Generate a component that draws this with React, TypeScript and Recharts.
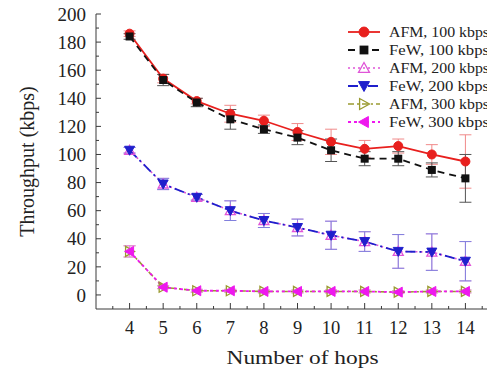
import React from 'react';
import { LineChart, Line, XAxis, YAxis, ErrorBar, Legend } from 'recharts';

const hops = [4, 5, 6, 7, 8, 9, 10, 11, 12, 13, 14];
const afm100 = [186, 154, 138, 129, 124, 116, 109, 104, 106, 100, 95];
const afm100Err = [2, 3, 2, 6, 4, 6, 9, 6, 5, 7, 19];
const few100 = [184, 153, 137, 125, 118, 112, 103, 97, 97, 89, 83];
const few100Err = [2, 4, 3, 7, 3, 5, 8, 5, 5, 5, 17];
const afm200 = [103, 79, 69.5, 60, 53, 48, 42.5, 38, 31, 30.5, 24];
const afm200Err = [2, 4, 2, 7, 5, 6, 10, 7, 12, 13, 14];
const few200 = [103, 79, 69.5, 60, 53, 48, 42.5, 38, 31, 30.5, 24];
const few200Err = [2, 4, 2, 7, 5, 6, 10, 7, 12, 13, 14];
const afm300 = [31, 5.5, 3, 3, 2.5, 2.5, 2.5, 2.5, 2, 2.5, 2.5];
const afm300Err = [4, 1, 1, 1, 1, 1, 1, 1, 1, 1, 1];
const few300 = [31, 5.5, 3, 3, 2.5, 2.5, 2.5, 2.5, 2, 2.5, 2.5];
const few300Err = [4, 1, 1, 1, 1, 1, 1, 1, 1, 1, 1];

const xTicks = [3.5, 4, 4.5, 5, 5.5, 6, 6.5, 7, 7.5, 8, 8.5, 9, 9.5, 10, 10.5, 11, 11.5, 12, 12.5, 13, 13.5, 14, 14.5];
const yTicks = [0, 10, 20, 30, 40, 50, 60, 70, 80, 90, 100, 110, 120, 130, 140, 150, 160, 170, 180, 190, 200];

const seriesNames = ['AFM, 100 kbps', 'FeW, 100 kbps', 'AFM, 200 kbps', 'FeW, 200 kbps', 'AFM, 300 kbps', 'FeW, 300 kbps'];

const data = hops.map((h, i) => ({
  hops: h,
  afm100: afm100[i], afm100Err: afm100Err[i],
  few100: few100[i], few100Err: few100Err[i],
  afm200: afm200[i], afm200Err: afm200Err[i],
  few200: few200[i], few200Err: few200Err[i],
  afm300: afm300[i], afm300Err: afm300Err[i],
  few300: few300[i], few300Err: few300Err[i],
}));

const FONT = '"Liberation Serif", "Times New Roman", serif';
const AXIS = '#3a3a3a';
const TXT = '#222';
const TOP_PAD = 6;

type Kind = 'circle' | 'square' | 'triUp' | 'triDown' | 'triRight' | 'triLeft';

const styles: { key: string; kind: Kind; color: string; err: string; dash?: string; width: number }[] = [
  { key: 'afm100', kind: 'circle', color: '#e8201e', err: '#f08a8a', width: 1.8 },
  { key: 'few100', kind: 'square', color: '#111111', err: '#555555', dash: '7 5', width: 1.8 },
  { key: 'afm200', kind: 'triUp', color: '#e055d8', err: '#e79be3', dash: '2 3', width: 1.6 },
  { key: 'few200', kind: 'triDown', color: '#1f1fcc', err: '#8080dd', dash: '10 4 2 4', width: 1.8 },
  { key: 'afm300', kind: 'triRight', color: '#9a9a30', err: '#b8b870', dash: '6 3 2 3', width: 1.6 },
  { key: 'few300', kind: 'triLeft', color: '#ee18ee', err: '#f080f0', dash: '3 3', width: 1.8 },
];

function marker(kind: Kind, color: string, cx: number, cy: number, k: any, s = 1) {
  switch (kind) {
    case 'circle':
      return <circle key={k} cx={cx} cy={cy} r={4.5 * s} fill={color} stroke={color} />;
    case 'square':
      return <rect key={k} x={cx - 4 * s} y={cy - 4 * s} width={8 * s} height={8 * s} fill={color} />;
    case 'triUp':
      return <polygon key={k} points={`${cx},${cy - 5 * s} ${cx - 5 * s},${cy + 4 * s} ${cx + 5 * s},${cy + 4 * s}`} fill="none" stroke={color} strokeWidth={1.3} />;
    case 'triDown':
      return <polygon key={k} points={`${cx - 5 * s},${cy - 4 * s} ${cx + 5 * s},${cy - 4 * s} ${cx},${cy + 5 * s}`} fill={color} stroke={color} />;
    case 'triRight':
      return <polygon key={k} points={`${cx - 4 * s},${cy - 5 * s} ${cx - 4 * s},${cy + 5 * s} ${cx + 5 * s},${cy}`} fill="none" stroke={color} strokeWidth={1.3} />;
    case 'triLeft':
    default:
      return <polygon key={k} points={`${cx + 4 * s},${cy - 5 * s} ${cx + 4 * s},${cy + 5 * s} ${cx - 5 * s},${cy}`} fill={color} stroke={color} />;
  }
}

const BottomTick = (p: any) => {
  const { x, y, payload } = p;
  const v = payload.value;
  const major = Number.isInteger(v);
  return (
    <g>
      <line x1={x} x2={x} y1={y} y2={y - (major ? 6 : 3)} stroke={AXIS} />
      {major && (
        <text x={x} y={y + 19} dy="0.35em" textAnchor="middle" fontSize={18.5} fontFamily={FONT} fill={TXT}>{v}</text>
      )}
    </g>
  );
};

const TopTick = (p: any) => {
  const { x, y, payload } = p;
  const major = Number.isInteger(payload.value);
  return <line x1={x} x2={x} y1={y} y2={y + (major ? 5 : 3)} stroke={AXIS} />;
};

const LeftTick = (p: any) => {
  const { x, y, payload } = p;
  const v = payload.value;
  const major = v % 20 === 0;
  return (
    <g>
      <line x1={x} x2={x + (major ? 5 : 3)} y1={y} y2={y} stroke={AXIS} />
      {major && (
        <text x={x - 10} y={y} dy="0.35em" textAnchor="end" fontSize={19} fontFamily={FONT} fill={TXT}>{v}</text>
      )}
    </g>
  );
};

const RightTick = (p: any) => {
  const { x, y, payload } = p;
  const major = payload.value % 20 === 0;
  return <line x1={x} x2={x - (major ? 7 : 4)} y1={y} y2={y} stroke={AXIS} />;
};

const XTitle = (p: any) => {
  const vb = p.viewBox || { x: 0, y: 0, width: 0, height: 0 };
  return (
    <text x={vb.x + vb.width / 2 + 5} y={vb.y + 55} textAnchor="middle" fontSize={18} fontFamily={FONT} fill={TXT} textLength={152} lengthAdjust="spacingAndGlyphs">
      Number of hops
    </text>
  );
};

const YTitle = (p: any) => {
  const vb = p.viewBox || { x: 0, y: 0, width: 0, height: 0 };
  const cx = 19;
  const cy = vb.y + vb.height / 2;
  return (
    <text x={cx} y={cy} dy="0.35em" textAnchor="middle" transform={`rotate(-90 ${cx} ${cy})`} fontSize={20} fontFamily={FONT} fill={TXT}>
      Throughput (kbps)
    </text>
  );
};

const LegendContent = () => (
  <svg width={160} height={112} style={{ display: 'block' }}>
    {styles.map((s, i) => {
      const cy = 10 + 18 * i;
      return (
        <g key={s.key}>
          <line x1={2} x2={34} y1={cy} y2={cy} stroke={s.color} strokeWidth={s.width} strokeDasharray={s.dash} />
          {marker(s.kind, s.color, 18, cy, 'm', 1.1)}
          <text x={43} y={cy} dy="0.35em" fontSize={15.5} fontFamily={FONT} fill={TXT} textLength={100} lengthAdjust="spacingAndGlyphs">{seriesNames[i]}</text>
        </g>
      );
    })}
  </svg>
);

export default function App() {
  return (
    <div style={{ width: 487, height: 366 + TOP_PAD, overflow: 'hidden', marginTop: -TOP_PAD }}>
      <LineChart width={500} height={366 + TOP_PAD} data={data} margin={{ top: 6 + TOP_PAD, right: 9, bottom: 0, left: 0 }}>
        <XAxis
          xAxisId="b"
          dataKey="hops"
          type="number"
          domain={[3, 15]}
          ticks={xTicks}
          interval={0}
          allowDecimals
          height={65}
          tickSize={0}
          tickMargin={0}
          tickLine={false}
          axisLine={{ stroke: AXIS }}
          tick={<BottomTick />}
          label={<XTitle />}
        />
        <XAxis
          xAxisId="t"
          orientation="top"
          dataKey="hops"
          type="number"
          domain={[3, 15]}
          ticks={xTicks}
          interval={0}
          allowDecimals
          height={0}
          tickSize={0}
          tickMargin={0}
          tickLine={false}
          axisLine={{ stroke: AXIS }}
          tick={<TopTick />}
        />
        <YAxis
          yAxisId="l"
          type="number"
          domain={[-10, 200]}
          ticks={yTicks}
          interval={0}
          width={88}
          tickSize={0}
          tickMargin={0}
          tickLine={false}
          axisLine={{ stroke: AXIS }}
          tick={<LeftTick />}
          label={<YTitle />}
        />
        <YAxis
          yAxisId="r"
          orientation="right"
          type="number"
          domain={[-10, 200]}
          ticks={yTicks}
          interval={0}
          width={0}
          tickSize={0}
          tickMargin={0}
          tickLine={false}
          axisLine={{ stroke: AXIS }}
          tick={<RightTick />}
        />
        <Legend
          layout="vertical"
          align="center"
          verticalAlign="middle"
          wrapperStyle={{ position: 'absolute', left: 338, top: 14 + TOP_PAD, width: 160, height: 112 }}
          content={<LegendContent />}
        />
        {styles.map((s) => (
          <Line
            key={s.key}
            xAxisId="b"
            yAxisId="l"
            dataKey={s.key}
            type="linear"
            stroke={s.color}
            strokeWidth={s.width}
            strokeDasharray={s.dash}
            isAnimationActive={false}
            dot={(p: any) => marker(s.kind, s.color, p.cx, p.cy, `${s.key}-${p.index}`)}
            activeDot={false}
          >
            <ErrorBar dataKey={`${s.key}Err`} width={6} stroke={s.err} strokeWidth={1} direction="y" isAnimationActive={false} />
          </Line>
        ))}
      </LineChart>
    </div>
  );
}
